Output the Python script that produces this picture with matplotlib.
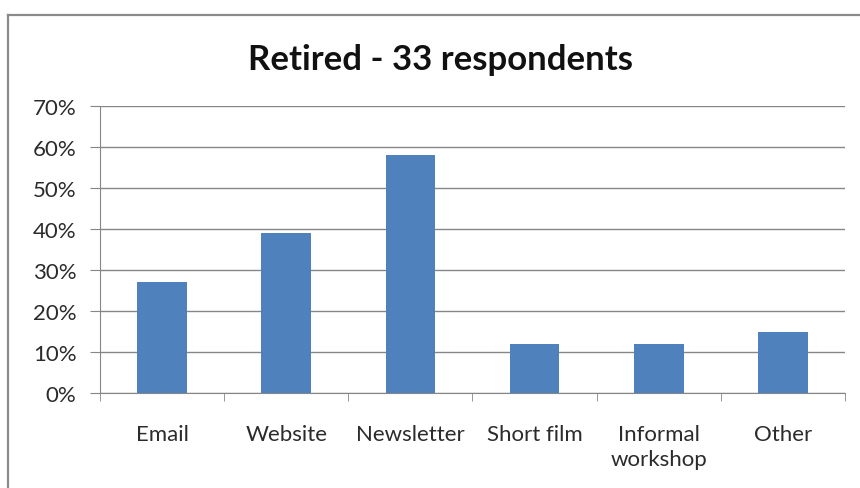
import matplotlib
matplotlib.use('agg')
from matplotlib import pyplot as plt
from matplotlib.lines import Line2D
from matplotlib.ticker import PercentFormatter, FixedLocator

plt.rcParams['font.family'] = ['Lato', 'DejaVu Sans']

categories = ["Email", "Website", "Newsletter", "Short film", "Informal\nworkshop", "Other"]
shares = [27, 39, 58, 12, 12, 15]  # percent of 33 respondents
title = "Retired - 33 respondents"

bar_color = '#4F81BD'
grid_color = '#868686'
text_color = '#2b2b2b'

fig = plt.figure(figsize=(8.6, 4.89), dpi=100)
W, H = 860.0, 489.0

# chart frame: top and left edges only
frame_kw = dict(transform=fig.transFigure, color='#8a8a8a', linewidth=1.6)
fig.lines.append(Line2D([8 / W, 1], [1 - 16 / H, 1 - 16 / H], **frame_kw))
fig.lines.append(Line2D([8 / W, 8 / W], [0, 1 - 16 / H], **frame_kw))

ax = fig.add_axes([100 / W, 1 - 394 / H, (845 - 100) / W, (394 - 107) / H])
x = range(len(categories))
ax.bar(x, shares, width=0.4, color=bar_color, zorder=3)

ax.set_xlim(-0.5, len(categories) - 0.5)
ax.set_ylim(0, 70)
ax.set_yticks(range(0, 71, 10))
ax.yaxis.set_major_formatter(PercentFormatter(decimals=0))
ax.yaxis.grid(True, color=grid_color, linewidth=1.0, zorder=0)

ax.set_xticks(list(x))
ax.set_xticklabels(categories, fontsize=16, color=text_color, linespacing=1.35)
ax.xaxis.set_minor_locator(FixedLocator([i - 0.5 for i in range(len(categories) + 1)]))
ax.tick_params(axis='x', which='major', length=0, pad=22)
ax.tick_params(axis='x', which='minor', length=6, color=grid_color, direction='out')
ax.tick_params(axis='y', length=7, color=grid_color, labelsize=16, labelcolor=text_color, pad=10)

for side in ('top', 'right'):
    ax.spines[side].set_visible(False)
ax.spines['left'].set_color(grid_color)
ax.spines['bottom'].set_color(grid_color)

fig.text(440 / W, 1 - 70 / H, title, ha='center', va='baseline',
         fontsize=25, fontweight='bold', color='#111111')

fig.savefig('out.png', dpi=100)
